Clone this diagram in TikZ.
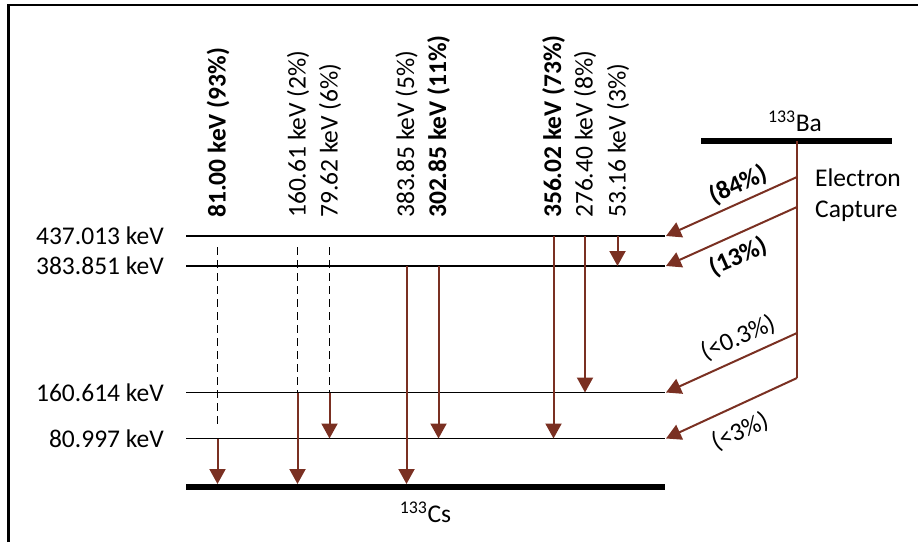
\documentclass[tikz,border=0pt]{standalone}
\usepackage{fontspec}
\setmainfont{Carlito}
\usetikzlibrary{arrows.meta}
\definecolor{arr}{RGB}{122,48,34}
\begin{document}
\begin{tikzpicture}[x=1pt,y=-1pt,
  lvl/.style={line width=1.8pt},
  bar/.style={line width=5.5pt},
  gam/.style={draw=arr, line width=2pt, -{Triangle[length=15pt,width=16pt]}},
  ecl/.style={draw=arr, line width=2pt},
  dsh/.style={line width=1pt, dash pattern=on 8pt off 5pt},
  txt/.style={font=\fontsize{25.5}{31}\selectfont, inner sep=0pt},
  vlab/.style={txt, rotate=90, anchor=west},
  elab/.style={txt, rotate=24},
  llab/.style={txt, anchor=east}
]
\useasboundingbox (0,0) rectangle (918,542);
% frame
\draw[line width=2.5pt] (8.7,542) -- (8.7,5) -- (918,5);

% levels
\coordinate (A1) at (186,236);   \coordinate (A2) at (665,236);
\coordinate (B1) at (186,266);   \coordinate (B2) at (665,266);
\coordinate (C1) at (186,392.5); \coordinate (C2) at (665,392.5);
\coordinate (D1) at (186,438.5); \coordinate (D2) at (665,438.5);
\coordinate (G1) at (186,487);   \coordinate (G2) at (665,487);
\draw[lvl] (A1) -- (A2);
\draw[lvl] (B1) -- (B2);
\draw[lvl] (C1) -- (C2);
\draw[lvl] (D1) -- (D2);
\draw[bar] (G1) -- (G2);

\node[llab] (tA) at (164,236) {437.013 keV};
\node[llab] (tB) at (164,266) {383.851 keV};
\node[llab] (tC) at (164,392.5) {160.614 keV};
\node[llab] (tD) at (164,438.5) {80.997 keV};
\node[txt] (cs) at (425.5,512) {\textsuperscript{133}Cs};

% Ba level
\coordinate (Ba1) at (701,141); \coordinate (Ba2) at (892,141);
\draw[bar] (Ba1) -- (Ba2);
\node[txt] (ba) at (795,121) {\textsuperscript{133}Ba};
\node[txt, align=left, anchor=west] (ec) at (815,195) {Electron\\Capture};

% electron capture branches
\coordinate (V0) at (797,141);
\coordinate (V1) at (797,177);
\coordinate (V2) at (797,207);
\coordinate (V3) at (797,333);
\coordinate (V4) at (797,378);
\draw[ecl] (V0) -- (V4);
\coordinate (E1) at (666,236);
\coordinate (E2) at (666,266);
\coordinate (E3) at (666,392.5);
\coordinate (E4) at (666,438.5);
\draw[gam] (V1) -- (E1);
\draw[gam] (V2) -- (E2);
\draw[gam] (V3) -- (E3);
\draw[gam] (V4) -- (E4);
\node[elab, font=\fontsize{25.5}{31}\selectfont\bfseries] (p1) at (738,185) {(84\%)};
\node[elab, font=\fontsize{25.5}{31}\selectfont\bfseries] (p2) at (738,257) {(13\%)};
\node[elab] (p3) at (738,338) {(<0.3\%)};
\node[elab] (p4) at (740,432) {(<3\%)};

% gamma transitions
% 81.00
\coordinate (g1a) at (217.5,247); \coordinate (g1b) at (217.5,424);
\coordinate (g1c) at (217.5,438.5); \coordinate (g1d) at (217.5,484);
\draw[dsh] (g1a) -- (g1b);
\draw[gam] (g1c) -- (g1d);
\node[vlab, font=\fontsize{25.5}{31}\selectfont\bfseries] (l1) at (218,218) {81.00 keV (93\%)};
% 160.61
\coordinate (g2a) at (297.5,247); \coordinate (g2b) at (297.5,392.5);
\coordinate (g2d) at (297.5,484);
\draw[dsh] (g2a) -- (g2b);
\draw[gam] (g2b) -- (g2d);
\node[vlab] (l2) at (298,218) {160.61 keV (2\%)};
% 79.62
\coordinate (g3a) at (329.5,247); \coordinate (g3b) at (329.5,392.5);
\coordinate (g3d) at (329.5,438.5);
\draw[dsh] (g3a) -- (g3b);
\draw[gam] (g3b) -- (g3d);
\node[vlab] (l3) at (330,218) {79.62 keV (6\%)};
% 383.85
\coordinate (g4a) at (406.5,266); \coordinate (g4d) at (406.5,484);
\draw[gam] (g4a) -- (g4d);
\node[vlab] (l4) at (406.5,218) {383.85 keV (5\%)};
% 302.85
\coordinate (g5a) at (438.5,266); \coordinate (g5d) at (438.5,438.5);
\draw[gam] (g5a) -- (g5d);
\node[vlab, font=\fontsize{25.5}{31}\selectfont\bfseries] (l5) at (438.5,218) {302.85 keV (11\%)};
% 356.02
\coordinate (g6a) at (553.5,236); \coordinate (g6d) at (553.5,438.5);
\draw[gam] (g6a) -- (g6d);
\node[vlab, font=\fontsize{25.5}{31}\selectfont\bfseries] (l6) at (553.5,218) {356.02 keV (73\%)};
% 276.40
\coordinate (g7a) at (585,236); \coordinate (g7d) at (585,392.5);
\draw[gam] (g7a) -- (g7d);
\node[vlab] (l7) at (585,218) {276.40 keV (8\%)};
% 53.16
\coordinate (g8a) at (617.5,236); \coordinate (g8d) at (617.5,266);
\draw[gam] (g8a) -- (g8d);
\node[vlab] (l8) at (618,218) {53.16 keV (3\%)};
\end{tikzpicture}
\end{document}
